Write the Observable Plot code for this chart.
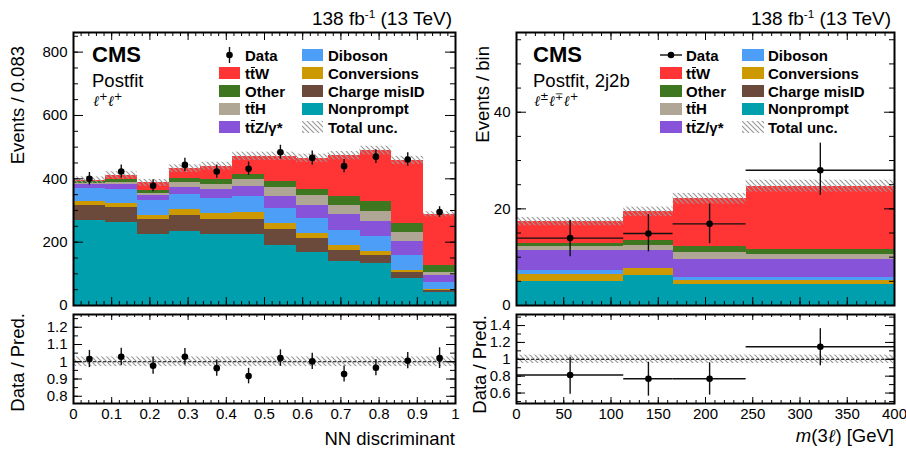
<!DOCTYPE html>
<html>
<head>
<meta charset="utf-8">
<script src="https://cdn.jsdelivr.net/npm/d3@7"></script>
<script src="https://cdn.jsdelivr.net/npm/@observablehq/plot@0.6"></script>
<style>
html,body{margin:0;padding:0;background:#fff;}
#chart{position:relative;width:906px;height:451px;overflow:hidden;font-family:"Liberation Sans",Arial,Helvetica,sans-serif;color:#000;}
#chart > svg{position:absolute;left:0;top:0;}
.t{position:absolute;white-space:nowrap;line-height:1;}
.t sup{font-size:0.62em;line-height:0;vertical-align:baseline;position:relative;top:-0.62em;}
.tb{position:relative;}
.tb::after{content:"";position:absolute;left:0.04em;right:0.02em;top:0.13em;border-top:1.5px solid currentColor;}
.ell{font-family:"DejaVu Serif",serif;font-style:italic;}
.lep sup{font-family:"DejaVu Sans",sans-serif;font-style:normal;font-size:0.72em;top:-0.55em;}
.sw{position:absolute;}
</style>
</head>
<body>
<svg width="0" height="0" style="position:absolute;left:0;top:0">
 <defs>
  <pattern id="hatch" patternUnits="userSpaceOnUse" width="5" height="5">
   <path d="M-1,-1L6,6M-1,4L1,6M4,-1L6,1" stroke="#9a9a9a" stroke-width="1.2" fill="none"/>
  </pattern>
 </defs>
</svg>
<div id="chart"></div>
<script>
const W = 906, H = 451;

// ---------- processes (stack order, bottom to top) ----------
const procs = ["Nonprompt", "Charge misID", "Conversions", "Diboson", "ttZ", "ttH", "Other", "ttW"];
const procColors = ["#009fae", "#6b4a3c", "#cc9a00", "#4d9ef7", "#8753d9", "#b0a696", "#3e7720", "#ff3535"];

// ---------- Left panel: NN discriminant, l+l+ ----------
const nnEdges = [0, 0.0833, 0.1667, 0.25, 0.3333, 0.4167, 0.5, 0.5833, 0.6667, 0.75, 0.8333, 0.9167, 1];
const nnNonprompt   = [268, 262, 224, 235, 224, 223, 189, 166, 140, 133, 86, 41];
const nnChargeMisID = [49, 47, 46, 49, 48, 50, 50, 44, 34, 25, 18, 5];
const nnConversions = [11, 13, 15, 18, 19, 22, 21, 17, 17, 14, 6, 6];
const nnDiboson     = [43, 45, 45, 50, 47, 48, 45, 47, 45, 46, 48, 22];
const nnTTZ         = [11, 15, 16, 22, 28, 34, 40, 43, 50, 46, 45, 21];
const nnTTH         = [3, 5, 8, 15, 17, 20, 27, 29, 31, 34, 28, 9];
const nnOther       = [5, 10, 10, 13, 14, 17, 20, 20, 28, 29, 28, 23];
const nnTTW         = [5, 14, 23, 30, 43, 57, 79, 99, 128, 162, 199, 161];
const nnData        = [400, 423, 378, 444, 423, 432, 484, 466, 440, 470, 461, 295];
const nnDataErr     = [20, 21, 19, 21, 21, 21, 22, 22, 21, 22, 21, 17];
const nnUnc         = [0.028, 0.028, 0.028, 0.028, 0.028, 0.028, 0.028, 0.028, 0.028, 0.028, 0.028, 0.028];
const nnRatio       = [1.016, 1.029, 0.977, 1.029, 0.963, 0.917, 1.021, 1.002, 0.929, 0.965, 1.006, 1.021];
const nnRatioErr    = [0.05, 0.05, 0.05, 0.048, 0.047, 0.045, 0.048, 0.047, 0.046, 0.046, 0.047, 0.06];

// ---------- Right panel: m(3l), 2j2b ----------
const m3lEdges = [0, 113.5, 165.7, 243, 400];
const m3lNonprompt   = [5.06, 6.3, 4.4, 4.4];
const m3lChargeMisID = [0, 0, 0, 0];
const m3lConversions = [1.4, 1.4, 0.8, 0.8];
const m3lDiboson     = [0.7, 0.05, 0.5, 0.5];
const m3lTTZ         = [4.15, 3.55, 3.8, 3.8];
const m3lTTH         = [0.9, 1.1, 1.4, 1.0];
const m3lOther       = [0.7, 1.0, 1.25, 1.0];
const m3lTTW         = [4.45, 6.0, 9.95, 13.2];
const m3lData        = [13.95, 14.9, 16.9, 28.0];
const m3lDataLo      = [10.1, 11.1, 12.8, 22.8];
const m3lDataHi      = [17.6, 18.8, 21.0, 33.6];
const m3lUnc         = [0.05, 0.05, 0.05, 0.05];
const m3lRatio       = [0.813, 0.77, 0.77, 1.149];
const m3lRatioLo     = [0.587, 0.563, 0.575, 0.923];
const m3lRatioHi     = [1.024, 0.965, 0.958, 1.363];

// ---------- tick labels ----------
const nnXTicks = [0, 0.1, 0.2, 0.3, 0.4, 0.5, 0.6, 0.7, 0.8, 0.9, 1];
const m3lXTicks = [0, 50, 100, 150, 200, 250, 300, 350, 400];
const nnYTicks = [0, 200, 400, 600, 800];
const m3lYTicks = [0, 20, 40];
const nnRatioTicks = [0.8, 0.9, 1, 1.1, 1.2];
const m3lRatioTicks = [0.6, 0.8, 1, 1.2, 1.4];
const refLine = 1;

// ---------- frames (px) ----------
const fL  = {l: 73,  r: 455, t: 32,  b: 305};
const fLr = {l: 73,  r: 455, t: 314, b: 403};
const fR  = {l: 516, r: 894, t: 32,  b: 305};
const fRr = {l: 516, r: 894, t: 314, b: 403};

const chart = document.getElementById("chart");
const FONT = '"Liberation Sans", Arial, Helvetica, sans-serif';

function stackRows(edges, comps) {
  const rows = [], totals = [];
  for (let i = 0; i < edges.length - 1; i++) {
    let c = 0;
    comps.forEach((arr, k) => {
      rows.push({x1: edges[i], x2: edges[i + 1], y1: c, y2: c + arr[i], proc: procs[k]});
      c += arr[i];
    });
    totals.push(c);
  }
  return {rows, totals};
}

function tickMarks(f, xdom, ydom, ax, L) {
  const Wf = f.r - f.l, Hf = f.b - f.t;
  const inY = v => v >= ydom[0] - 1e-9 && v <= ydom[1] + 1e-9;
  const inX = v => v >= xdom[0] - 1e-9 && v <= xdom[1] + 1e-9;
  const s = {stroke: "#000", strokeWidth: 1};
  const yMaj = ax.yMaj.filter(inY), yMin = ax.yMin.filter(inY);
  const xMaj = ax.xMaj.filter(inX), xMin = ax.xMin.filter(inX);
  return [
    Plot.tickY(yMin, {y: d => d, insetRight: Wf - L.yMin, ...s}),
    Plot.tickY(yMin, {y: d => d, insetLeft: Wf - L.yMin, ...s}),
    Plot.tickY(yMaj, {y: d => d, insetRight: Wf - L.yMaj, ...s}),
    Plot.tickY(yMaj, {y: d => d, insetLeft: Wf - L.yMaj, ...s}),
    Plot.tickX(xMin, {x: d => d, insetTop: Hf - L.xMin, ...s}),
    Plot.tickX(xMin, {x: d => d, insetBottom: Hf - L.xMin, ...s}),
    Plot.tickX(xMaj, {x: d => d, insetTop: Hf - L.xMaj, ...s}),
    Plot.tickX(xMaj, {x: d => d, insetBottom: Hf - L.xMaj, ...s})
  ];
}

function place(svg) {
  svg.style.position = "absolute";
  svg.style.left = "0px";
  svg.style.top = "0px";
  chart.appendChild(svg);
}

function basePlot(f, xdom, ydom, yTicks, xTicks, marks, yPad) {
  return Plot.plot({
    width: W, height: H,
    marginLeft: f.l, marginRight: W - f.r, marginTop: f.t, marginBottom: H - f.b,
    style: {background: "none", overflow: "visible", fontFamily: FONT, fontSize: "15px", color: "#000"},
    x: xTicks ? {domain: xdom, ticks: xTicks, tickSize: 0, tickPadding: 5, tickFormat: d => String(d), label: null}
              : {domain: xdom, axis: null},
    y: {domain: ydom, ticks: yTicks, tickSize: 0, tickPadding: yPad, tickFormat: d => String(d), label: null},
    color: {domain: procs, range: procColors},
    marks
  });
}

function mainPanel(f, xdom, ydom, yTicks, ax, edges, comps, pts, unc, xBars) {
  const {rows, totals} = stackRows(edges, comps);
  const band = totals.map((t, i) => ({x1: edges[i], x2: edges[i + 1], lo: t * (1 - unc[i]), hi: t * (1 + unc[i])}));
  const marks = [
    Plot.rect(rows, {x1: "x1", x2: "x2", y1: "y1", y2: "y2", fill: "proc", shapeRendering: "crispEdges"}),
    Plot.rect(band, {x1: "x1", x2: "x2", y1: "lo", y2: "hi", fill: "url(#hatch)"}),
    Plot.ruleX(pts, {x: "x", y1: "lo", y2: "hi", stroke: "#111", strokeWidth: 1.4})
  ];
  if (xBars) marks.push(Plot.ruleY(pts, {y: "y", x1: "x1", x2: "x2", stroke: "#111", strokeWidth: 1.4}));
  marks.push(Plot.dot(pts, {x: "x", y: "y", r: 3.3, fill: "#000", stroke: "none"}));
  marks.push(...tickMarks(f, xdom, ydom, ax, {yMaj: 10, yMin: 5, xMaj: 8, xMin: 4}));
  marks.push(Plot.frame({stroke: "#000", strokeWidth: 2}));
  place(basePlot(f, xdom, ydom, yTicks, null, marks, 6));
}

function ratioPanel(f, xdom, ydom, yTicks, xTicks, ax, edges, unc, pts, xBars) {
  const band = unc.map((u, i) => ({x1: edges[i], x2: edges[i + 1], lo: refLine - u, hi: refLine + u}));
  const marks = [
    Plot.rect(band, {x1: "x1", x2: "x2", y1: "lo", y2: "hi", fill: "url(#hatch)"}),
    Plot.ruleY([refLine], {y: d => d, stroke: "#000", strokeWidth: 1, strokeDasharray: "3,2"}),
    Plot.ruleX(pts, {x: "x", y1: "lo", y2: "hi", stroke: "#111", strokeWidth: 1.4})
  ];
  if (xBars) marks.push(Plot.ruleY(pts, {y: "y", x1: "x1", x2: "x2", stroke: "#111", strokeWidth: 1.4}));
  marks.push(Plot.dot(pts, {x: "x", y: "y", r: 3.3, fill: "#000", stroke: "none"}));
  marks.push(...tickMarks(f, xdom, ydom, ax, {yMaj: 9, yMin: 5, xMaj: 6, xMin: 3}));
  marks.push(Plot.frame({stroke: "#000", strokeWidth: 2}));
  place(basePlot(f, xdom, ydom, yTicks, xTicks, marks, 6));
}

// ---------- build left ----------
const nnComps = [nnNonprompt, nnChargeMisID, nnConversions, nnDiboson, nnTTZ, nnTTH, nnOther, nnTTW];
const nnPts = nnData.map((v, i) => ({x: (nnEdges[i] + nnEdges[i + 1]) / 2, y: v, lo: v - nnDataErr[i], hi: v + nnDataErr[i]}));
const nnRPts = nnRatio.map((v, i) => ({x: (nnEdges[i] + nnEdges[i + 1]) / 2, y: v, lo: v - nnRatioErr[i], hi: v + nnRatioErr[i]}));
const nnAx = {yMaj: nnYTicks, yMin: d3.range(0, 862, 50), xMaj: nnXTicks, xMin: d3.range(0, 1.0001, 0.02)};
mainPanel(fL, [0, 1], [0, 862], nnYTicks, nnAx, nnEdges, nnComps, nnPts, nnUnc, false);
ratioPanel(fLr, [0, 1], [0.758, 1.274], nnRatioTicks, nnXTicks,
  {yMaj: nnRatioTicks, yMin: d3.range(0.8, 1.27, 0.05), xMaj: nnXTicks, xMin: d3.range(0, 1.0001, 0.02)},
  nnEdges, nnUnc, nnRPts, false);

// ---------- build right ----------
const m3lComps = [m3lNonprompt, m3lChargeMisID, m3lConversions, m3lDiboson, m3lTTZ, m3lTTH, m3lOther, m3lTTW];
const m3lPts = m3lData.map((v, i) => ({x: (m3lEdges[i] + m3lEdges[i + 1]) / 2, y: v, lo: m3lDataLo[i], hi: m3lDataHi[i], x1: m3lEdges[i], x2: m3lEdges[i + 1]}));
const m3lRPts = m3lRatio.map((v, i) => ({x: (m3lEdges[i] + m3lEdges[i + 1]) / 2, y: v, lo: m3lRatioLo[i], hi: m3lRatioHi[i], x1: m3lEdges[i], x2: m3lEdges[i + 1]}));
const m3lAx = {yMaj: m3lYTicks, yMin: d3.range(0, 57, 5), xMaj: m3lXTicks, xMin: d3.range(0, 401, 10)};
mainPanel(fR, [0, 400], [0, 56.5], m3lYTicks, m3lAx, m3lEdges, m3lComps, m3lPts, m3lUnc, true);
ratioPanel(fRr, [0, 400], [0.476, 1.531], m3lRatioTicks, m3lXTicks,
  {yMaj: m3lRatioTicks, yMin: d3.range(0.5, 1.55, 0.1), xMaj: m3lXTicks, xMin: d3.range(0, 401, 10)},
  m3lEdges, m3lUnc, m3lRPts, true);

// ---------- text ----------
function txt(html, x, base, size, o = {}) {
  const d = document.createElement("div");
  d.className = "t" + (o.cls ? " " + o.cls : "");
  d.innerHTML = html;
  d.style.fontSize = size + "px";
  d.style.top = (base - 0.8465 * size) + "px";
  if (o.anchor === "end") d.style.right = (W - x) + "px"; else d.style.left = x + "px";
  if (o.bold) d.style.fontWeight = "bold";
  chart.appendChild(d);
  return d;
}
function vtxt(html, xBase, yEnd, size) {
  const d = document.createElement("div");
  d.className = "t";
  d.innerHTML = html;
  d.style.fontSize = size + "px";
  d.style.left = (xBase - 0.8465 * size) + "px";
  d.style.top = yEnd + "px";
  d.style.transformOrigin = "0 0";
  d.style.transform = "rotate(-90deg) translate(-100%, 0)";
  chart.appendChild(d);
}
function box(x, yc, w, h, fill) {
  const d = document.createElement("div");
  d.className = "sw";
  d.style.left = x + "px"; d.style.top = (yc - h / 2) + "px";
  d.style.width = w + "px"; d.style.height = h + "px";
  d.style.background = fill;
  chart.appendChild(d);
}
function svgAt(x, y, w, h, inner) {
  const d = document.createElement("div");
  d.className = "sw";
  d.style.left = x + "px"; d.style.top = y + "px";
  d.innerHTML = `<svg width="${w}" height="${h}" style="display:block">${inner}</svg>`;
  chart.appendChild(d);
}

const lumi = "138 fb<sup>-1</sup> (13 TeV)";
txt(lumi, 452, 25, 19, {anchor: "end"});
txt(lumi, 891, 25, 19, {anchor: "end"});

const ell = '<span class="ell">ℓ</span>';
txt("CMS", 92, 63, 22, {bold: true});
txt("Postfit", 92, 87.5, 18.5);
txt(ell + "<sup>+</sup>" + ell + "<sup>+</sup>", 93, 106, 14.5, {cls: "lep"});

txt("CMS", 533, 63, 22, {bold: true});
txt("Postfit, 2j2b", 533, 87.5, 18.5);
txt(ell + "<sup>±</sup>" + ell + "<sup>∓</sup>" + ell + "<sup>+</sup>", 534, 106, 14.5, {cls: "lep"});

vtxt("Events / 0.083", 25, 46, 18.5);
vtxt("Data / Pred.", 25, 313, 18.5);
vtxt("Events / bin", 490, 46, 18.5);
vtxt("Data / Pred.", 487, 315, 18.5);

txt("NN discriminant", 455, 446, 18.5, {anchor: "end"});
txt('<i>m</i>(3' + ell + ') [GeV]', 894, 443, 18.5, {anchor: "end"});

// ---------- legends ----------
const tt = 't<span class="tb">t</span>';
const legLeft = ["Data", tt + "W", "Other", tt + "H", tt + "Z/γ*"];
const legRight = ["Diboson", "Conversions", "Charge misID", "Nonprompt", "Total unc."];
const legLeftColors = [null, procColors[7], procColors[6], procColors[5], procColors[4]];
const legRightColors = [procColors[3], procColors[2], procColors[1], procColors[0], "hatch"];
const legRows = [55, 73.3, 90.8, 108.5, 126.8];

function legend(c1x, c1tx, c2x, c2tx, sw, dataHoriz) {
  legRows.forEach((yc, i) => {
    if (legLeftColors[i] === null) {
      if (dataHoriz) {
        svgAt(c1x, yc - 7, sw, 14, `<line x1="0" y1="7" x2="${sw}" y2="7" stroke="#111" stroke-width="1.4"/><circle cx="${sw / 2}" cy="7" r="3.3" fill="#000"/>`);
      } else {
        svgAt(c1x, yc - 8, sw, 16, `<line x1="${sw / 2}" y1="0" x2="${sw / 2}" y2="16" stroke="#111" stroke-width="1.4"/><circle cx="${sw / 2}" cy="8" r="3.3" fill="#000"/>`);
      }
    } else {
      box(c1x, yc, sw, 12, legLeftColors[i]);
    }
    txt(legLeft[i], c1tx, yc + 5.4, 15, {bold: true});
    if (legRightColors[i] === "hatch") {
      svgAt(c2x, yc - 6, sw, 12, `<rect width="${sw}" height="12" fill="url(#hatch)"/>`);
    } else {
      box(c2x, yc, sw, 12, legRightColors[i]);
    }
    txt(legRight[i], c2tx, yc + 5.4, 15, {bold: true});
  });
}
legend(219, 245, 302, 328, 21, false);
legend(660, 686, 742, 768, 22, true);
</script>
</body>
</html>
